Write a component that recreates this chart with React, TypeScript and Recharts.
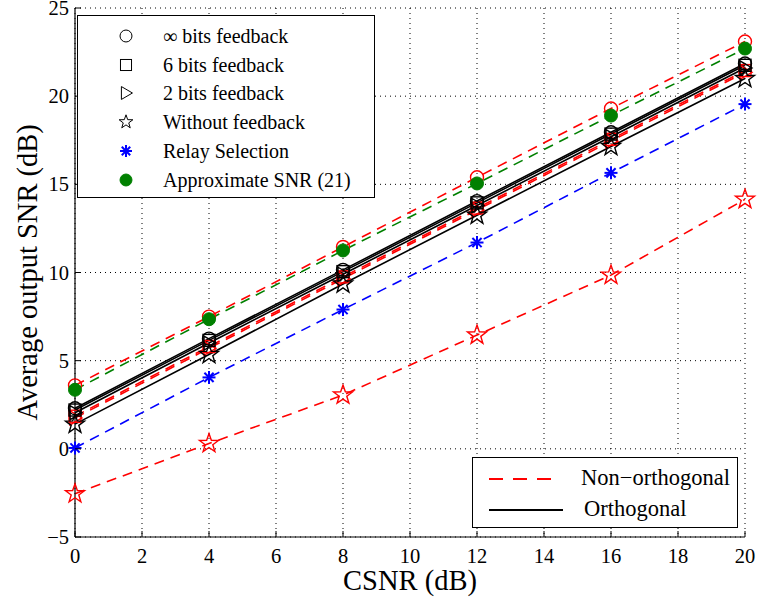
import React from "react";
import { LineChart, Line, XAxis, YAxis, CartesianGrid } from "recharts";

const csnr = [0, 4, 8, 12, 16, 20];
const xTicks = [0, 2, 4, 6, 8, 10, 12, 14, 16, 18, 20];
const yTicks = [-5, 0, 5, 10, 15, 20, 25];

// Orthogonal (black solid)
const ortInf = [2.3, 6.25, 10.15, 14.05, 17.95, 21.85];
const ort6 = [2.2, 6.15, 10.05, 13.95, 17.85, 21.75];
const ort2 = [2.05, 6.0, 9.9, 13.8, 17.7, 21.6];
const ortNone = [1.4, 5.35, 9.35, 13.25, 17.15, 21.0];
// Non-orthogonal (red dashed)
const noInf = [3.6, 7.5, 11.45, 15.4, 19.3, 23.1];
const no6 = [1.85, 5.8, 9.75, 13.65, 17.55, 21.45];
const no2 = [1.75, 5.7, 9.65, 13.55, 17.45, 21.35];
const noNone = [-2.55, 0.3, 3.05, 6.45, 9.85, 14.15];
// Relay selection (blue dashed) and approximation (green dashed)
const relay = [0.05, 4.05, 7.9, 11.7, 15.65, 19.55];
const approx = [3.35, 7.35, 11.25, 15.05, 18.9, 22.7];

const data = csnr.map((x, i) => ({
  x,
  ortInf: ortInf[i],
  ort6: ort6[i],
  ort2: ort2[i],
  ortNone: ortNone[i],
  noInf: noInf[i],
  no6: no6[i],
  no2: no2[i],
  noNone: noNone[i],
  relay: relay[i],
  approx: approx[i],
}));

const FONT = "'Liberation Serif', 'DejaVu Serif', serif";
const RED = "#ff0000";
const GREEN = "#008000";
const BLUE = "#0000ff";
const BLACK = "#000000";

type MK = "circle" | "square" | "triangle" | "star" | "asterisk" | "dot";

function starPoints(cx: number, cy: number, ro: number, ri: number) {
  const pts: string[] = [];
  for (let k = 0; k < 10; k++) {
    const r = k % 2 === 0 ? ro : ri;
    const a = -Math.PI / 2 + (k * Math.PI) / 5;
    pts.push(`${cx + r * Math.cos(a)},${cy + r * Math.sin(a)}`);
  }
  return pts.join(" ");
}

function MarkerShape({
  kind,
  cx,
  cy,
  color,
  sw = 1.4,
  s = 1,
}: {
  kind: MK;
  cx: number;
  cy: number;
  color: string;
  sw?: number;
  s?: number;
}) {
  switch (kind) {
    case "circle":
      return <circle cx={cx} cy={cy} r={6.5 * s} fill="none" stroke={color} strokeWidth={sw} />;
    case "square":
      return <rect x={cx - 6 * s} y={cy - 6 * s} width={12 * s} height={12 * s} fill="none" stroke={color} strokeWidth={sw} />;
    case "triangle":
      return (
        <polygon
          points={`${cx - 5 * s},${cy - 7 * s} ${cx + 7 * s},${cy} ${cx - 5 * s},${cy + 7 * s}`}
          fill="none"
          stroke={color}
          strokeWidth={sw}
        />
      );
    case "star":
      return <polygon points={starPoints(cx, cy, 10 * s, 4 * s)} fill="none" stroke={color} strokeWidth={sw} />;
    case "asterisk": {
      const r = 6.5 * s;
      const d = r * 0.7071;
      return (
        <g stroke={color} strokeWidth={2}>
          <line x1={cx - r} y1={cy} x2={cx + r} y2={cy} />
          <line x1={cx} y1={cy - r} x2={cx} y2={cy + r} />
          <line x1={cx - d} y1={cy - d} x2={cx + d} y2={cy + d} />
          <line x1={cx - d} y1={cy + d} x2={cx + d} y2={cy - d} />
        </g>
      );
    }
    case "dot":
      return <circle cx={cx} cy={cy} r={6.5 * s} fill={color} stroke={color} />;
  }
  return null;
}

const makeDot = (kind: MK, color: string) => (props: any) => {
  const { cx, cy, index } = props;
  if (cx == null || cy == null) return <g key={`d-${index}`} />;
  return (
    <g key={`d-${kind}-${color}-${index}`}>
      <MarkerShape kind={kind} cx={cx} cy={cy} color={color} />
    </g>
  );
};

const fmt = (v: number) => (v < 0 ? `\u2212${Math.abs(v)}` : `${v}`);

const tickTextStyle = { fontFamily: FONT, fontSize: 20.5 };

const BottomTick = (p: any) => (
  <g>
    <line x1={p.x} y1={p.y} x2={p.x} y2={p.y - 6} stroke={BLACK} strokeWidth={1} />
    <text x={p.x} y={p.y + 26} textAnchor="middle" style={tickTextStyle} fill={BLACK}>
      {fmt(p.payload.value)}
    </text>
  </g>
);
const TopTick = (p: any) => (
  <g>
    <line x1={p.x} y1={p.y} x2={p.x} y2={p.y + 6} stroke={BLACK} strokeWidth={1} />
  </g>
);
const LeftTick = (p: any) => (
  <g>
    <line x1={p.x} y1={p.y} x2={p.x + 6} y2={p.y} stroke={BLACK} strokeWidth={1} />
    <text x={p.x - 6} y={p.y + 7} textAnchor="end" style={tickTextStyle} fill={BLACK}>
      {fmt(p.payload.value)}
    </text>
  </g>
);
const RightTick = (p: any) => (
  <g>
    <line x1={p.x} y1={p.y} x2={p.x - 6} y2={p.y} stroke={BLACK} strokeWidth={1} />
  </g>
);

type SeriesDef = { key: string; color: string; kind: MK; dashed: boolean; name: string };

const series: SeriesDef[] = [
  { key: "noNone", color: RED, kind: "star", dashed: true, name: "Non-orthogonal, without feedback" },
  { key: "no2", color: RED, kind: "triangle", dashed: true, name: "Non-orthogonal, 2 bits" },
  { key: "no6", color: RED, kind: "square", dashed: true, name: "Non-orthogonal, 6 bits" },
  { key: "noInf", color: RED, kind: "circle", dashed: true, name: "Non-orthogonal, inf bits" },
  { key: "ortNone", color: BLACK, kind: "star", dashed: false, name: "Orthogonal, without feedback" },
  { key: "ort2", color: BLACK, kind: "triangle", dashed: false, name: "Orthogonal, 2 bits" },
  { key: "ort6", color: BLACK, kind: "square", dashed: false, name: "Orthogonal, 6 bits" },
  { key: "ortInf", color: BLACK, kind: "circle", dashed: false, name: "Orthogonal, inf bits" },
  { key: "relay", color: BLUE, kind: "asterisk", dashed: true, name: "Relay Selection" },
  { key: "approx", color: GREEN, kind: "dot", dashed: true, name: "Approximate SNR (21)" },
];

const markerLegend: { label: string; kind: MK; color: string }[] = [
  { label: "\u221e bits feedback", kind: "circle", color: BLACK },
  { label: "6 bits feedback", kind: "square", color: BLACK },
  { label: "2 bits feedback", kind: "triangle", color: BLACK },
  { label: "Without feedback", kind: "star", color: BLACK },
  { label: "Relay Selection", kind: "asterisk", color: BLUE },
  { label: "Approximate SNR (21)", kind: "dot", color: GREEN },
];

const lineLegend: { label: string; color: string; dashed: boolean }[] = [
  { label: "Non\u2212orthogonal", color: RED, dashed: true },
  { label: "Orthogonal", color: BLACK, dashed: false },
];

export default function App() {
  return (
    <div style={{ position: "absolute", left: 0, top: 0, width: 759, height: 600, background: "#fff", fontFamily: FONT }}>
      <LineChart width={759} height={600} data={data} margin={{ top: 8, right: 14, bottom: 0, left: 0 }} style={{ overflow: "visible" }}>
        <CartesianGrid stroke={BLACK} strokeDasharray="1 4" strokeWidth={1} />
        <XAxis
          dataKey="x"
          type="number"
          domain={[0, 20]}
          ticks={xTicks}
          interval={0}
          height={63}
          tickSize={0}
          tickMargin={0}
          tickLine={false}
          axisLine={{ stroke: BLACK, strokeWidth: 1.2 }}
          tick={BottomTick}
          label={{ value: "CSNR (dB)", position: "insideBottom", offset: 10, fontFamily: FONT, fontSize: 28.5, fill: BLACK }}
        />
        <XAxis
          xAxisId="top"
          orientation="top"
          dataKey="x"
          type="number"
          domain={[0, 20]}
          ticks={xTicks}
          interval={0}
          height={0}
          tickSize={0}
          tickMargin={0}
          tickLine={false}
          axisLine={{ stroke: BLACK, strokeWidth: 1.2 }}
          tick={TopTick}
        />
        <YAxis
          type="number"
          domain={[-5, 25]}
          ticks={yTicks}
          interval={0}
          width={75}
          tickSize={0}
          tickMargin={0}
          tickLine={false}
          axisLine={{ stroke: BLACK, strokeWidth: 1.2 }}
          tick={LeftTick}
          label={{
            value: "Average output SNR (dB)",
            angle: -90,
            position: "insideLeft",
            offset: 27,
            dy: 148,
            fontFamily: FONT,
            fontSize: 28.5,
            fill: BLACK,
          }}
        />
        <YAxis
          yAxisId="right"
          orientation="right"
          type="number"
          domain={[-5, 25]}
          ticks={yTicks}
          interval={0}
          width={0}
          tickSize={0}
          tickMargin={0}
          tickLine={false}
          axisLine={{ stroke: BLACK, strokeWidth: 1.2 }}
          tick={RightTick}
        />
        {series.map((s) => (
          <Line
            key={s.key}
            dataKey={s.key}
            name={s.name}
            type="linear"
            stroke={s.color}
            strokeWidth={1.6}
            strokeDasharray={s.dashed ? "10 7" : undefined}
            dot={makeDot(s.kind, s.color)}
            activeDot={false}
            isAnimationActive={false}
          />
        ))}
      </LineChart>

      {/* Marker legend */}
      <div
        style={{
          position: "absolute",
          left: 77,
          top: 15,
          width: 298,
          height: 183,
          border: "1px solid #000",
          background: "#fff",
          boxSizing: "border-box",
        }}
      >
        {markerLegend.map((m, i) => (
          <div key={m.label} style={{ position: "absolute", left: 0, top: 7 + i * 28.7, height: 26, width: 296 }}>
            <svg width={40} height={26} style={{ position: "absolute", left: 28, top: 0 }}>
              <MarkerShape kind={m.kind} cx={20} cy={13} color={m.color} sw={1} s={m.kind === "star" ? 0.72 : 0.92} />
            </svg>
            <span
              style={{
                position: "absolute",
                left: 85,
                top: 1,
                fontSize: 20,
                lineHeight: "24px",
                whiteSpace: "nowrap",
                color: "#000",
              }}
            >
              {m.label}
            </span>
          </div>
        ))}
      </div>

      {/* Line style legend */}
      <div
        style={{
          position: "absolute",
          left: 472,
          top: 457,
          width: 266,
          height: 71,
          border: "1px solid #000",
          background: "#fff",
          boxSizing: "border-box",
        }}
      >
        {lineLegend.map((l, i) => (
          <div key={l.label} style={{ position: "absolute", left: 0, top: 8 + i * 31, height: 26, width: 264 }}>
            <svg width={80} height={26} style={{ position: "absolute", left: 14, top: 0 }}>
              <line
                x1={2}
                y1={13}
                x2={l.dashed ? 64 : 76}
                y2={13}
                stroke={l.color}
                strokeWidth={2}
                strokeDasharray={l.dashed ? "14 10" : undefined}
              />
            </svg>
            <span
              style={{
                position: "absolute",
                left: 108 + (l.dashed ? 0 : 3),
                top: -1,
                fontSize: 22.5,
                lineHeight: "26px",
                whiteSpace: "nowrap",
                color: "#000",
              }}
            >
              {l.label}
            </span>
          </div>
        ))}
      </div>
    </div>
  );
}
